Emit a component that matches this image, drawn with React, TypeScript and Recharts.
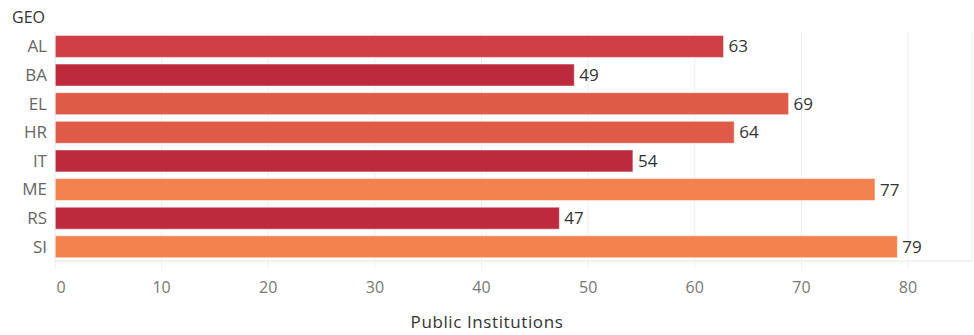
import { BarChart, Bar, XAxis, YAxis, CartesianGrid, Cell, LabelList } from 'recharts';

const geo = ['AL', 'BA', 'EL', 'HR', 'IT', 'ME', 'RS', 'SI'];
const publicInstitutions = [62.7, 48.7, 68.8, 63.7, 54.2, 76.9, 47.3, 79.0];
const barColors = ['#cf4046', '#bd293d', '#e05a48', '#e05a48', '#bd293d', '#f4824e', '#bd293d', '#f4824e'];
const xTicks = [0, 10, 20, 30, 40, 50, 60, 70, 80];

const data = geo.map((g, i) => ({ geo: g, value: publicInstitutions[i] }));

const font = '"Open Sans", "Noto Sans", sans-serif';

function XTick(props: any) {
  const { x, y, payload } = props;
  const shift = payload.value === 0 ? 6 : 0;
  return (
    <text x={x + shift} y={y} dy="0.71em" textAnchor="middle" fill="#777" fontSize={16} fontFamily={font}>
      {payload.value}
    </text>
  );
}

export default function App() {
  return (
    <div style={{ position: 'absolute', left: 0, top: 0, width: 974, height: 335, background: '#fff' }}>
      <div style={{ position: 'absolute', left: 12, top: 6, fontSize: 16, color: '#333', fontFamily: font }}>GEO</div>
      <BarChart
        width={974}
        height={335}
        data={data}
        layout="vertical"
        margin={{ top: 32, right: 2, bottom: 0, left: 0 }}
        barCategoryGap="12%"
      >
        <CartesianGrid horizontal={false} stroke="#eeeeee" />
        <XAxis
          type="number"
          domain={[0, 86]}
          ticks={xTicks}
          height={74}
          axisLine={{ stroke: '#e4e4e4' }}
          tickLine={{ stroke: '#eeeeee' }}
          tickSize={8}
          tickMargin={13}
          tick={<XTick />}
        />
        <YAxis
          type="category"
          dataKey="geo"
          width={55}
          axisLine={{ stroke: '#eeeeee' }}
          tickLine={false}
          tickSize={0}
          tickMargin={8}
          tick={{ fill: '#666', fontSize: 17, fontFamily: font }}
        />
        <Bar dataKey="value" isAnimationActive={false} stroke="#ffffff" strokeOpacity={0.5} strokeWidth={1}>
          {data.map((d, i) => (
            <Cell key={d.geo} fill={barColors[i]} />
          ))}
          <LabelList
            dataKey="value"
            position="right"
            offset={5}
            fill="#333"
            fontSize={17}
            fontFamily={font}
            formatter={(v: any) => Math.round(Number(v))}
          />
        </Bar>
      </BarChart>
      <div
        style={{
          position: 'absolute',
          left: 0,
          top: 310,
          width: 974,
          textAlign: 'center',
          fontSize: 17,
          letterSpacing: 0.6,
          color: '#333',
          fontFamily: font,
        }}
      >
        Public Institutions
      </div>
    </div>
  );
}
